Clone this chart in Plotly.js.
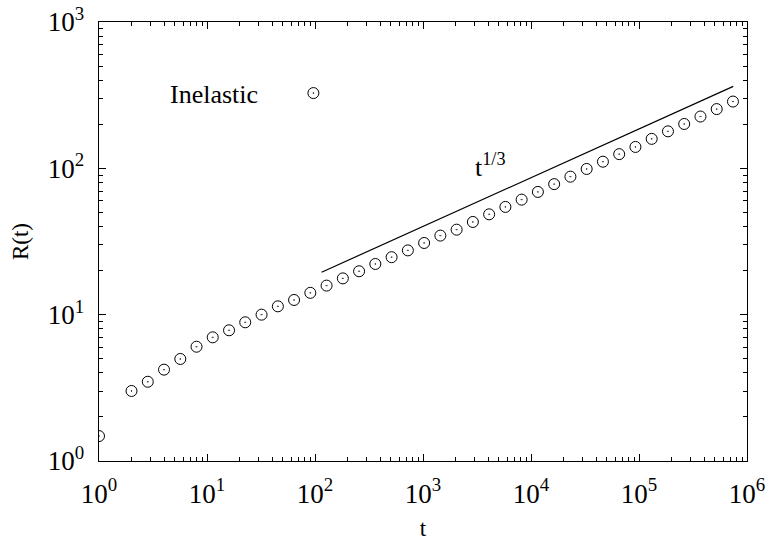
<!DOCTYPE html>
<html>
<head>
<meta charset="utf-8">
<script src="https://cdn.plot.ly/plotly-3.0.1.min.js"></script>
<style>html,body{margin:0;padding:0;background:#fff;}#chart{width:769px;height:542px;}</style>
</head>
<body>
<div id="chart"></div>
<script>
// Data
var timeValues = [1, 2, 2.83, 4, 5.66, 8, 11.3, 16, 22.6, 32, 45.3, 64, 90.5, 128, 181, 256, 362, 512, 724,
  1024, 1448, 2048, 2896, 4096, 5793, 8192, 11585, 16384, 23170, 32768, 46341, 65536, 92682,
  131072, 185364, 262144, 370728, 524288, 741455];
var radiusValues = [1.48, 3.01, 3.48, 4.21, 4.98, 6.04, 7.0, 7.82, 8.87, 10.0, 11.4, 12.6, 14.1, 15.8, 17.7,
  19.8, 22.2, 24.7, 27.5, 30.9, 34.7, 38.1, 43.0, 48.5, 54.5, 61.1, 69.0, 78.0, 87.7,
  99.0, 111, 125, 140, 159, 179, 201, 226, 254, 286];
var fitT = [115, 746000];
var fitR = [19.5, 363];
var xTickVals = [1, 10, 100, 1000, 10000, 100000, 1000000];
var xTickText = ['10<sup>0</sup>', '10<sup>1</sup>', '10<sup>2</sup>', '10<sup>3</sup>', '10<sup>4</sup>', '10<sup>5</sup>', '10<sup>6</sup>'];
var yTickVals = [1, 10, 100, 1000];
var yTickText = ['10<sup>0</sup>', '10<sup>1</sup>', '10<sup>2</sup>', '10<sup>3</sup>'];

function minorVals(lo, hi) {
  var out = [];
  for (var d = lo; d < hi; d++) {
    for (var m = 2; m <= 9; m++) out.push(m * Math.pow(10, d));
  }
  return out;
}

var fam = '"Liberation Serif", "Times New Roman", serif';
var font = {family: fam, size: 23, color: '#000'};
var bigFont = {family: fam, size: 26, color: '#000'};

var traces = [
  {
    x: timeValues, y: radiusValues, type: 'scatter', mode: 'markers', name: '',
    marker: {symbol: 'circle-open-dot', size: 11, color: '#000', line: {width: 1, color: '#000'}},
    showlegend: true, hoverinfo: 'x+y'
  },
  {
    x: fitT, y: fitR, type: 'scatter', mode: 'lines', name: 'fit',
    line: {color: '#000', width: 1.2}, showlegend: false
  }
];

function makeAxis(range, vals, text, minor, titleText) {
  return {
    type: 'log', range: range, showgrid: false, zeroline: false, showline: true,
    linecolor: '#000', linewidth: 1.3, mirror: 'ticks',
    ticks: 'inside', ticklen: 7, tickwidth: 1, tickcolor: '#000',
    tickmode: 'array', tickvals: vals, ticktext: text,
    tickfont: {family: fam, size: 27, color: '#000'},
    ticklabelstandoff: 8,
    minor: {tickmode: 'array', tickvals: minor, ticks: 'inside', ticklen: 4, tickwidth: 1, tickcolor: '#000', showgrid: false},
    title: {text: titleText, font: {family: fam, size: 23, color: '#000'}, standoff: 12}
  };
}

var layout = {
  width: 769, height: 542,
  margin: {l: 99, r: 22, t: 22, b: 81},
  paper_bgcolor: '#fff', plot_bgcolor: '#fff',
  font: font,
  xaxis: makeAxis([0, 6], xTickVals, xTickText, minorVals(0, 6), 't'),
  yaxis: makeAxis([0, 3], yTickVals, yTickText, minorVals(0, 3), 'R(t)'),
  showlegend: true,
  legend: {x: 0.30, y: 0.838, xanchor: 'left', yanchor: 'middle', bgcolor: 'rgba(0,0,0,0)', font: font, itemwidth: 30},
  annotations: [
    {xref: 'paper', yref: 'paper', x: 0.1775, y: 0.834, text: 'Inelastic', showarrow: false, font: bigFont, xanchor: 'center', yanchor: 'middle'},
    {xref: 'paper', yref: 'paper', x: 0.603, y: 0.672, text: 't<sup>1/3</sup>', showarrow: false, font: bigFont, xanchor: 'center', yanchor: 'middle'}
  ]
};

Plotly.newPlot('chart', traces, layout, {displayModeBar: false, staticPlot: true});
</script>
</body>
</html>
